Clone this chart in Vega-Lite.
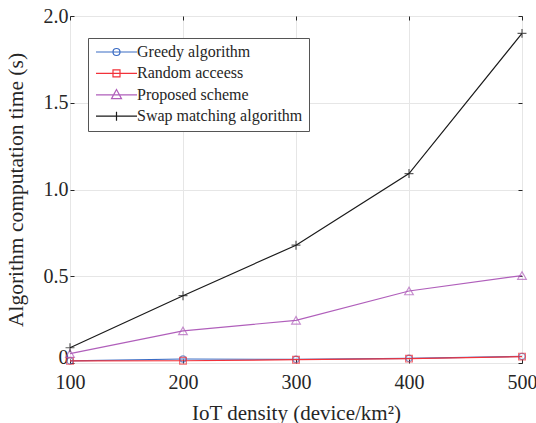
{
  "$schema": "https://vega.github.io/schema/vega-lite/v6.json",
  "width": 452,
  "height": 347,
  "autosize": {"type": "none"},
  "padding": {"left": 70, "top": 16, "right": 14, "bottom": 60},
  "background": "white",
  "config": {
    "view": {"stroke": "#262626", "strokeWidth": 1},
    "font": "Liberation Serif",
    "axis": {
      "labelFont": "Liberation Serif",
      "titleFont": "Liberation Serif",
      "labelFontSize": 20,
      "titleFontSize": 21,
      "titleFontWeight": "normal",
      "labelColor": "#262626",
      "titleColor": "#262626",
      "domain": false,
      "tickColor": "#262626",
      "tickSize": -4,
      "gridColor": "#e6e6e6",
      "gridWidth": 1
    }
  },
  "data": {
    "values": [
      {"x": 100, "y": 0.012, "series": "Greedy algorithm"},
      {"x": 200, "y": 0.023, "series": "Greedy algorithm"},
      {"x": 300, "y": 0.021, "series": "Greedy algorithm"},
      {"x": 400, "y": 0.027, "series": "Greedy algorithm"},
      {"x": 500, "y": 0.038, "series": "Greedy algorithm"},
      {"x": 100, "y": 0.012, "series": "Random acceess"},
      {"x": 200, "y": 0.013, "series": "Random acceess"},
      {"x": 300, "y": 0.019, "series": "Random acceess"},
      {"x": 400, "y": 0.025, "series": "Random acceess"},
      {"x": 500, "y": 0.037, "series": "Random acceess"},
      {"x": 100, "y": 0.054, "series": "Proposed scheme"},
      {"x": 200, "y": 0.185, "series": "Proposed scheme"},
      {"x": 300, "y": 0.246, "series": "Proposed scheme"},
      {"x": 400, "y": 0.415, "series": "Proposed scheme"},
      {"x": 500, "y": 0.504, "series": "Proposed scheme"},
      {"x": 100, "y": 0.088, "series": "Swap matching algorithm"},
      {"x": 200, "y": 0.388, "series": "Swap matching algorithm"},
      {"x": 300, "y": 0.679, "series": "Swap matching algorithm"},
      {"x": 400, "y": 1.092, "series": "Swap matching algorithm"},
      {"x": 500, "y": 1.9, "series": "Swap matching algorithm"}
    ]
  },
  "resolve": {"axis": {"x": "independent", "y": "independent"}},
  "layer": [
    {
      "mark": {"type": "line", "strokeWidth": 1.2},
      "encoding": {
        "x": {"field": "x", "type": "quantitative", "scale": {"domain": [100, 500], "zero": false, "nice": false},
          "axis": {"title": "IoT density (device/km²)", "values": [100, 200, 300, 400, 500], "labelPadding": 13, "titlePadding": 10, "labelFlush": false}},
        "y": {"field": "y", "type": "quantitative", "scale": {"domain": [0, 2], "nice": false},
          "axis": {"title": "Algorithm computation time (s)", "titleFontSize": 21.5, "values": [0, 0.5, 1, 1.5, 2], "labelExpr": "datum.value === 0 ? '0' : format(datum.value, '.1f')", "labelPadding": 6, "titlePadding": 16,
            "labelOffset": {"condition": {"test": "datum.value === 0", "value": -6}, "value": 0}}},
        "color": {"field": "series", "type": "nominal",
          "scale": {"domain": ["Greedy algorithm", "Random acceess", "Proposed scheme", "Swap matching algorithm"], "range": ["#3b6cc4", "#f2323a", "#b05fbb", "#1a1a1a"]},
          "legend": {
            "title": null, "orient": "none", "legendX": 18, "legendY": 22,
            "labelFont": "Liberation Serif", "labelFontSize": 16, "labelColor": "#262626", "labelLimit": 0,
            "strokeColor": "#555555", "fillColor": "white", "padding": 6,
            "symbolSize": 49, "symbolStrokeWidth": 1.2, "labelOffset": 27, "rowPadding": 5.4,
            "encode": {"symbols": {"update": {
              "shape": {"signal": "datum.value === 'Greedy algorithm' ? 'M-1.714,0H10M5.143,0A1,1 0 1,1 3.143,0A1,1 0 1,1 5.143,0' : datum.value === 'Random acceess' ? 'M-1.714,0H10M3.143,-1H5.143V1H3.143Z' : datum.value === 'Proposed scheme' ? 'M-1.714,0H10M4.143,-1.5L5.571,1.1L2.714,1.1Z' : 'M-1.714,0H10M4.143,-1.3V1.3'"},
              "fill": {"value": "transparent"}
            }}}
          }},
        "order": {"field": "x", "type": "quantitative"}
      }
    },
    {
      "transform": [{"filter": "datum.series === 'Greedy algorithm'"}],
      "mark": {"type": "point", "filled": false, "strokeWidth": 1.2, "shape": "circle", "size": 40},
      "encoding": {
        "x": {"field": "x", "type": "quantitative", "axis": null},
        "y": {"field": "y", "type": "quantitative", "axis": null},
        "color": {"field": "series", "type": "nominal"}
      }
    },
    {
      "transform": [{"filter": "datum.series === 'Random acceess'"}],
      "mark": {"type": "point", "filled": false, "strokeWidth": 1.2, "shape": "square", "size": 45},
      "encoding": {
        "x": {"field": "x", "type": "quantitative", "axis": null},
        "y": {"field": "y", "type": "quantitative", "axis": null},
        "color": {"field": "series", "type": "nominal"}
      }
    },
    {
      "transform": [{"filter": "datum.series === 'Proposed scheme'"}],
      "mark": {"type": "point", "filled": false, "strokeWidth": 1.2, "shape": "triangle-up", "size": 75},
      "encoding": {
        "x": {"field": "x", "type": "quantitative", "axis": null},
        "y": {"field": "y", "type": "quantitative", "axis": null},
        "color": {"field": "series", "type": "nominal"}
      }
    },
    {
      "transform": [{"filter": "datum.series === 'Swap matching algorithm'"}],
      "mark": {"type": "point", "filled": false, "strokeWidth": 1.2, "shape": "M-1,0H1M0,-1V1", "size": 80},
      "encoding": {
        "x": {"field": "x", "type": "quantitative", "axis": null},
        "y": {"field": "y", "type": "quantitative", "axis": null},
        "color": {"field": "series", "type": "nominal"}
      }
    },
    {
      "mark": {"type": "point", "opacity": 0},
      "encoding": {
        "x": {"field": "x", "type": "quantitative", "axis": {"orient": "top", "labels": false, "grid": false, "title": null, "values": [100, 200, 300, 400, 500]}},
        "y": {"field": "y", "type": "quantitative", "axis": {"orient": "right", "labels": false, "grid": false, "title": null, "values": [0, 0.5, 1, 1.5, 2]}}
      }
    }
  ]
}
